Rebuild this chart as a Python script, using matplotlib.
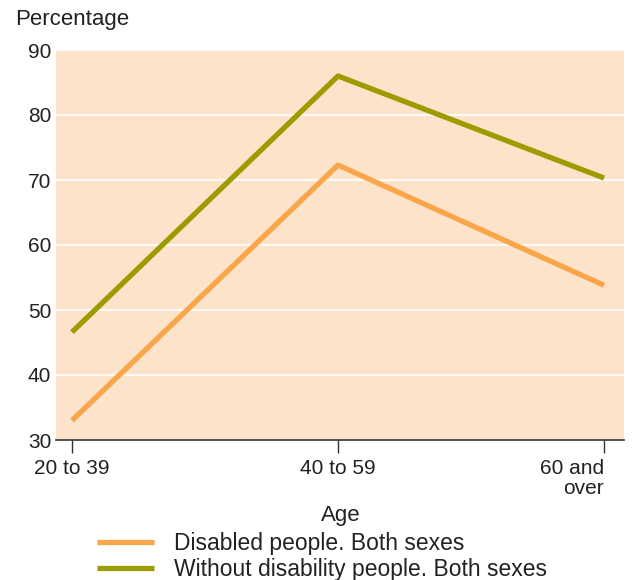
import matplotlib
matplotlib.use("Agg")
import matplotlib.pyplot as plt

plt.rcParams['font.family'] = ['Liberation Sans', 'DejaVu Sans']

categories = ["20 to 39", "40 to 59", "60 and\nover"]
disabled = [33.0, 72.3, 53.8]
without = [46.6, 86.0, 70.3]
series_names = ["Disabled people. Both sexes", "Without disability people. Both sexes"]
yticks = [30, 40, 50, 60, 70, 80, 90]

fig = plt.figure(figsize=(6.35, 5.8), dpi=100)
ax = fig.add_axes([56/635, 1-440/580, (624-56)/635, (440-50)/580])
ax.set_facecolor('#fde3c9')
x = list(range(len(categories)))
l1, = ax.plot(x, disabled, color='#f9a54a', lw=3.8, solid_capstyle='butt', zorder=3)
l2, = ax.plot(x, without, color='#9c9c00', lw=3.8, solid_capstyle='butt', zorder=3)

ax.set_ylim(30, 90)
ax.set_xlim(-0.06, 2.075)
ax.set_yticks(yticks)
ax.set_yticklabels([str(v) for v in yticks], fontsize=15, color='#222222')
ax.yaxis.grid(True, color='white', lw=1.2)
ax.set_axisbelow(True)
ax.tick_params(axis='y', length=0, pad=3.5)
ax.set_xticks(x)
ax.set_xticklabels(categories, fontsize=15, color='#222222', linespacing=1.1)
ax.tick_params(axis='x', length=9.5, width=1, color='#333333', pad=4)
labs = ax.get_xticklabels()
labs[2].set_ha('right')
labs[2].set_x(2.065)
for s in ['top', 'right', 'left']:
    ax.spines[s].set_visible(False)
ax.spines['bottom'].set_color('#333333')
ax.spines['bottom'].set_linewidth(1.2)

fig.text(15/635, 1-20/580, "Percentage", fontsize=16, va='center', ha='left', color='#222222')
fig.text(341/635, 1-516/580, "Age", fontsize=16, va='center', ha='center', color='#222222')

leg = fig.legend([l1, l2], series_names, loc='upper left', bbox_to_anchor=(97/635, 1-532/580),
                 frameon=False, fontsize=16.5, handlelength=2.5, handletextpad=0.85,
                 labelspacing=0.12, borderaxespad=0, borderpad=0)
for t in leg.get_texts():
    t.set_color('#222222')
fig.savefig("out.png", dpi=100)
